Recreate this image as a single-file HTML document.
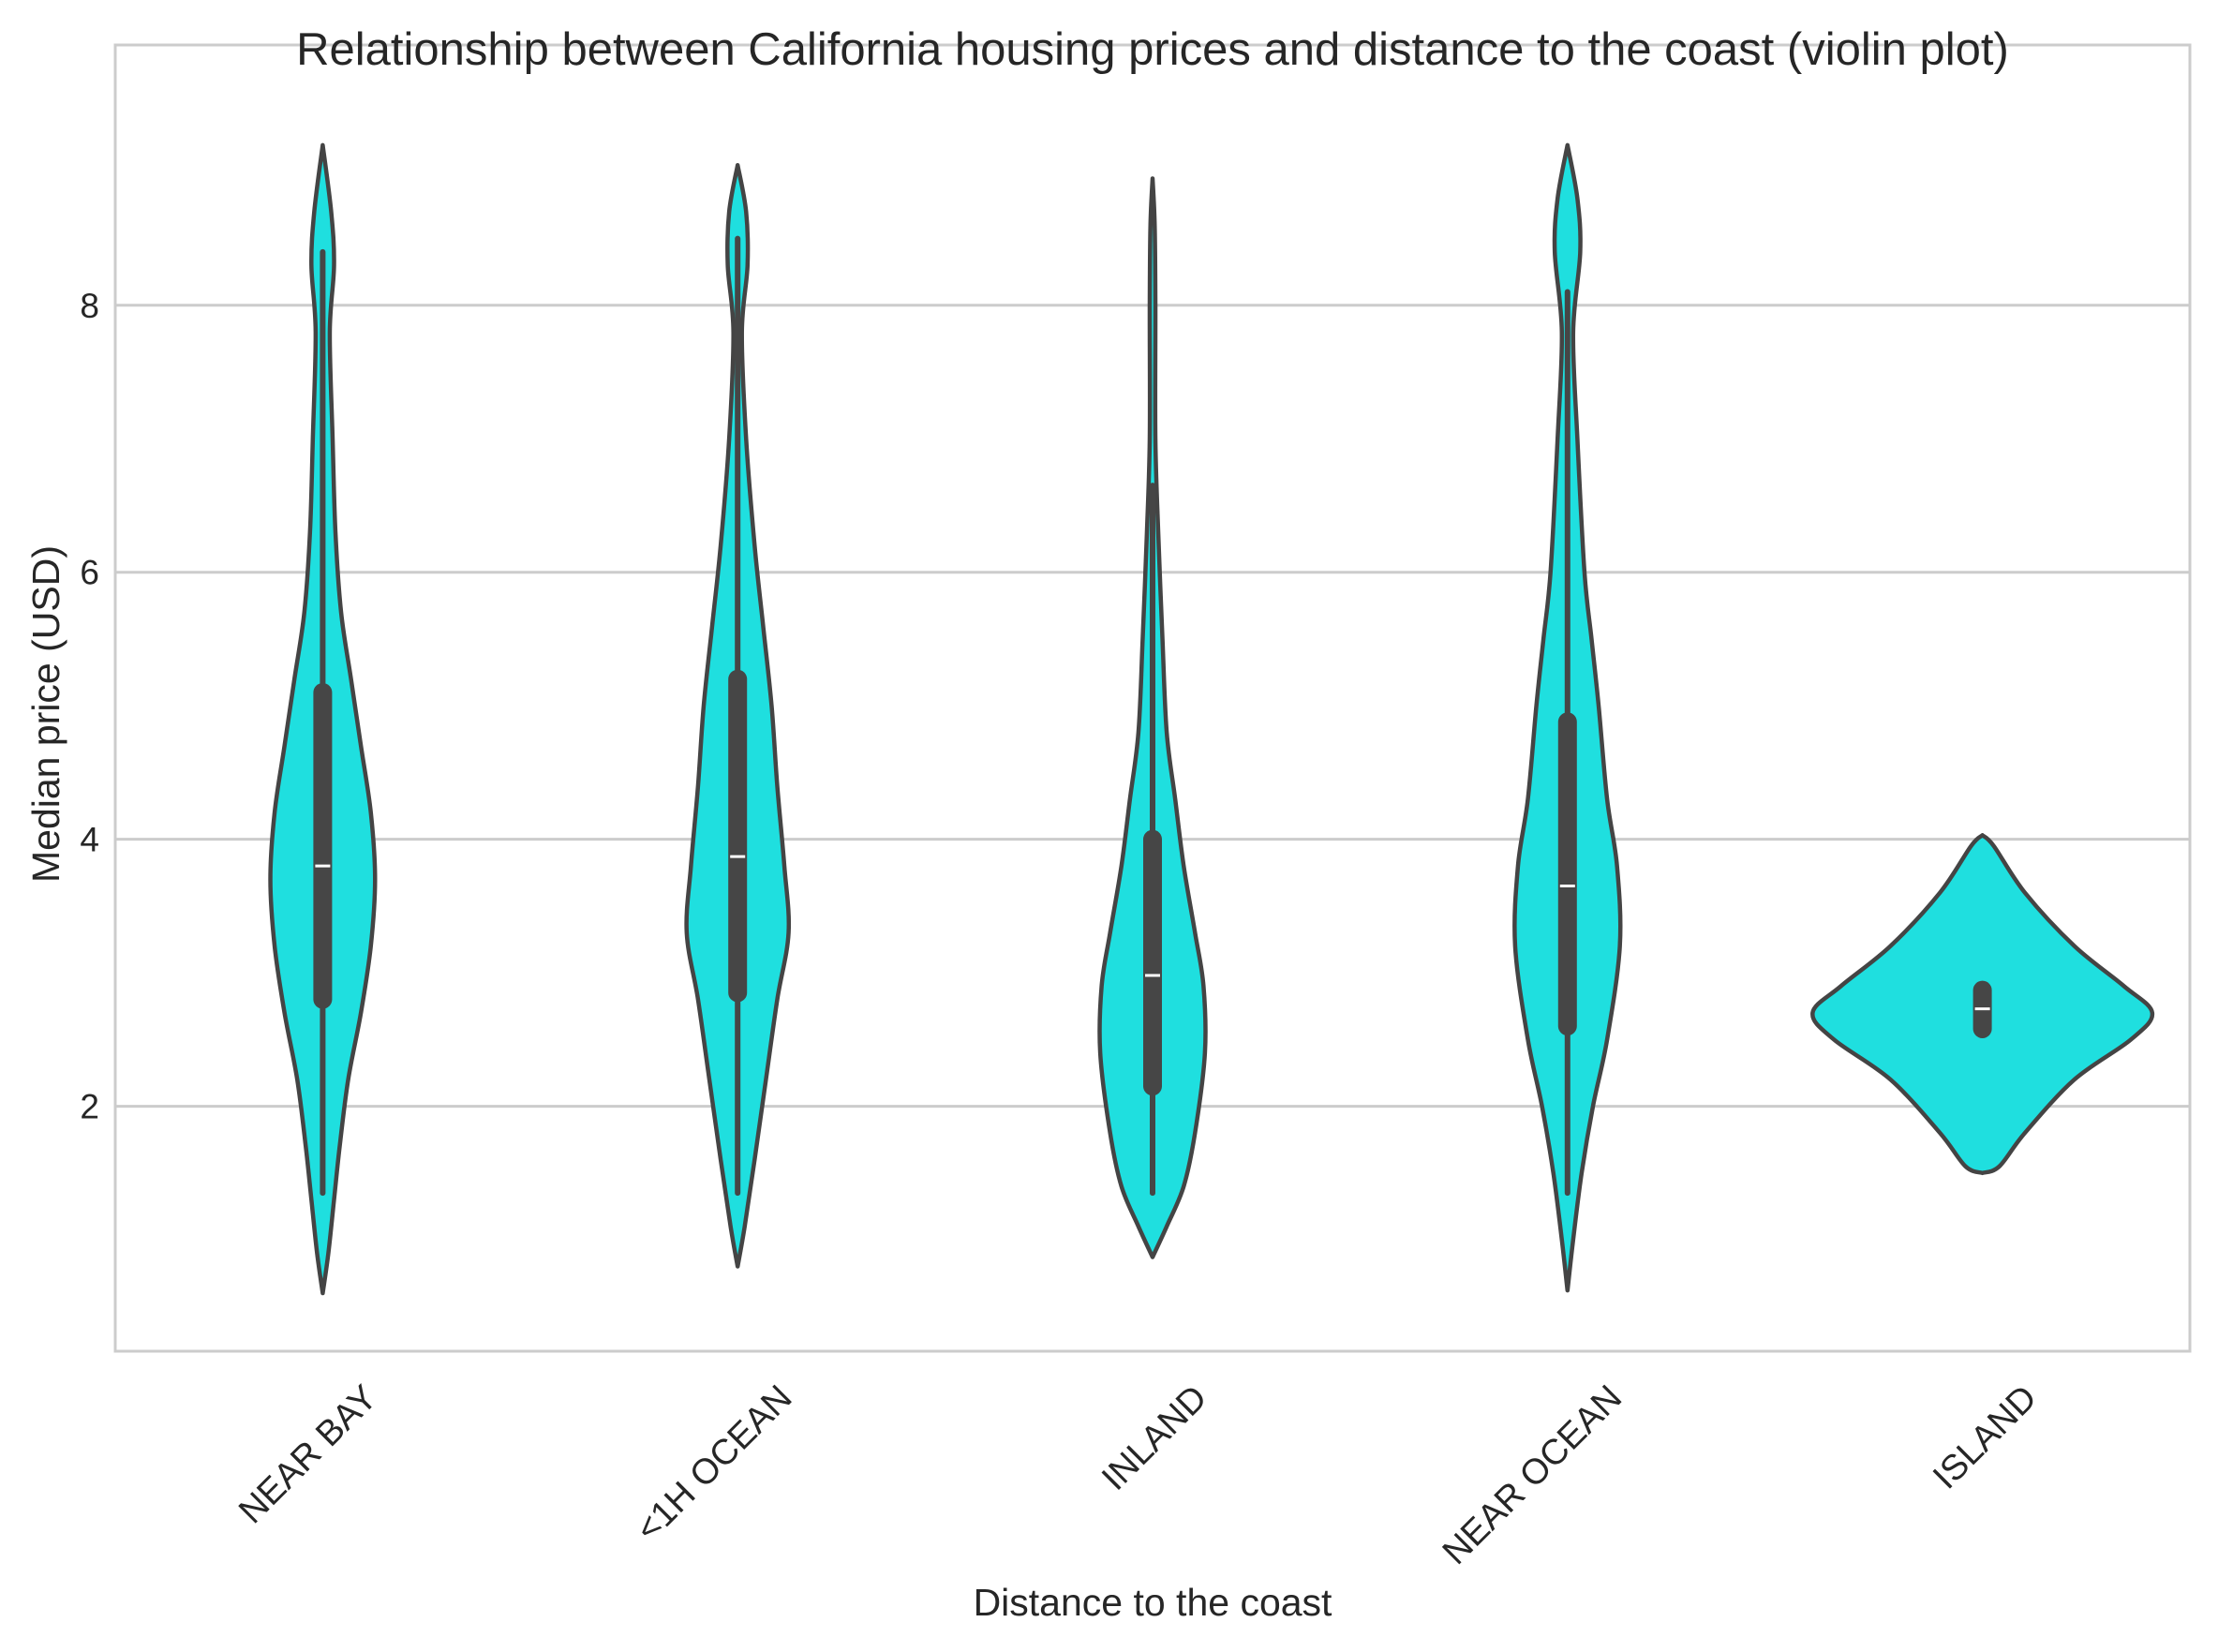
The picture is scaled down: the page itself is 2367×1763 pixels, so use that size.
<!DOCTYPE html>
<html><head><meta charset="utf-8"><style>
body{margin:0;background:#fff;}
svg{display:block;font-family:"Liberation Sans",sans-serif;}
</style></head><body>
<svg id="chart" width="2367" height="1763" viewBox="0 0 2367 1763" xmlns="http://www.w3.org/2000/svg">
<rect width="2367" height="1763" fill="#fff"/>
<g id="grid"></g>
<g id="violins"></g>
<rect x="123" y="48" width="2214" height="1394" fill="none" stroke="#cccccc" stroke-width="3"/>
<g id="labels"></g>
<text x="1230" y="69" font-size="49" fill="#262626" text-anchor="middle">Relationship between California housing prices and distance to the coast (violin plot)</text>
<text x="1230" y="1724" font-size="41" fill="#262626" text-anchor="middle">Distance to the coast</text>
<text transform="translate(63,762) rotate(-90)" font-size="41" fill="#262626" text-anchor="middle">Median price (USD)</text>
</svg>
<script>
const categories=["NEAR BAY","<1H OCEAN","INLAND","NEAR OCEAN","ISLAND"];
const yTicks=[2,4,6,8];
const profileValues=[
[0.6,0.9,1.3,1.7,2.2,2.7,3.2,3.7,4.2,4.7,5.2,5.7,6.3,7,7.8,8.3,8.7,9.2],
[0.8,1.1,1.6,2.2,2.8,3.3,3.8,4.4,5,5.6,6.2,7,7.8,8.3,8.7,9.05],
[0.87,1.1,1.4,1.8,2.4,2.9,3.3,3.8,4.3,4.8,5.5,6.3,7,8,8.6,8.95],
[0.62,1,1.5,2,2.5,3.2,3.8,4.3,5,5.5,6,7,7.8,8.4,8.8,9.2],
[1.5,1.55,1.8,2.2,2.5,2.7,2.9,3.2,3.6,3.95,4.03]
];
const profileDensity=[
[0,4,8,12,18,27,34,37,34,27,20,13,9,7,5,8,6,0],
[0,5,12,20,28,36,33,28,24,18,12,6,3,7,6,0],
[0,10,22,30,37,36,30,22,16,10,7,4,2,2,1.5,0],
[0,4,10,18,28,37,35,28,22,17,12,7,4,9,7,0],
[0,12,30,65,105,120,100,65,30,8,0]
];
const whiskerLow=[1.35,1.35,1.35,1.35,null];
const whiskerHigh=[8.4,8.5,6.65,8.1,null];
const q1=[2.8,2.85,2.15,2.6,2.58];
const q3=[5.1,5.2,4.0,4.88,2.87];
const medians=[3.8,3.87,2.98,3.65,2.73];

const SC=1.51;
const X0=123,X1=2337,Y0=48,Y1=1442,VMIN=0.165,VMAX=9.95;
const y=v=>Y1-(v-VMIN)/(VMAX-VMIN)*(Y1-Y0);
const band=(X1-X0)/categories.length;
const x=i=>X0+band*(i+0.5);
const NS="http://www.w3.org/2000/svg";
function mk(t,a,p){const e=document.createElementNS(NS,t);for(const k in a)e.setAttribute(k,a[k]);p.appendChild(e);return e;}
const grid=document.getElementById('grid'),vg=document.getElementById('violins'),lg=document.getElementById('labels');
yTicks.forEach(t=>{
 const l=mk('line',{x1:X0,x2:X1,y1:y(t),y2:y(t),stroke:'#cccccc','stroke-width':3},grid);
 
 
 const tx=mk('text',{x:X0-17,y:y(t)+13,'font-size':37,fill:'#262626','text-anchor':'end'},lg);
 tx.textContent=t;
 
 
});
function smooth(pts){let d='M'+pts[0][0]+','+pts[0][1];
 for(let i=0;i<pts.length-1;i++){const p0=pts[Math.max(0,i-1)],p1=pts[i],p2=pts[i+1],p3=pts[Math.min(pts.length-1,i+2)];
 const c1=[p1[0]+(p2[0]-p0[0])/6,p1[1]+(p2[1]-p0[1])/6],c2=[p2[0]-(p3[0]-p1[0])/6,p2[1]-(p3[1]-p1[1])/6];
 d+=' C'+c1[0]+','+c1[1]+' '+c2[0]+','+c2[1]+' '+p2[0]+','+p2[1];}return d;}
categories.forEach((c,i)=>{
 const cx=x(i),vals=profileValues[i],dens=profileDensity[i];
 const right=vals.map((v,k)=>[cx+dens[k]*SC,y(v)]);
 const left=vals.map((v,k)=>[cx-dens[k]*SC,y(v)]).reverse();
 const d=smooth(right)+' L'+smooth(left).slice(1)+' Z';
 const p=mk('path',{d:d,fill:'#1fdfdf',stroke:'#444','stroke-width':4.5,'stroke-linejoin':'round'},vg);
 
 
 if(whiskerLow[i]!==null){
  const w=mk('line',{x1:cx,x2:cx,y1:y(whiskerLow[i]),y2:y(whiskerHigh[i]),stroke:'#464646','stroke-width':6,'stroke-linecap':'round'},vg);
  
  
 }
 const b=mk('line',{x1:cx,x2:cx,y1:y(q1[i]),y2:y(q3[i]),stroke:'#464646','stroke-width':20,'stroke-linecap':'round'},vg);
 
 
 const m=mk('line',{x1:cx-8,x2:cx+8,y1:y(medians[i]),y2:y(medians[i]),stroke:'#fff','stroke-width':3},vg);
 
 
 const tx=mk('text',{'font-size':38,fill:'#262626','text-anchor':'end',transform:'translate('+(cx+60)+',1494) rotate(-45)'},lg);
 tx.textContent=c;
 
 
});
</script>
</body></html>
